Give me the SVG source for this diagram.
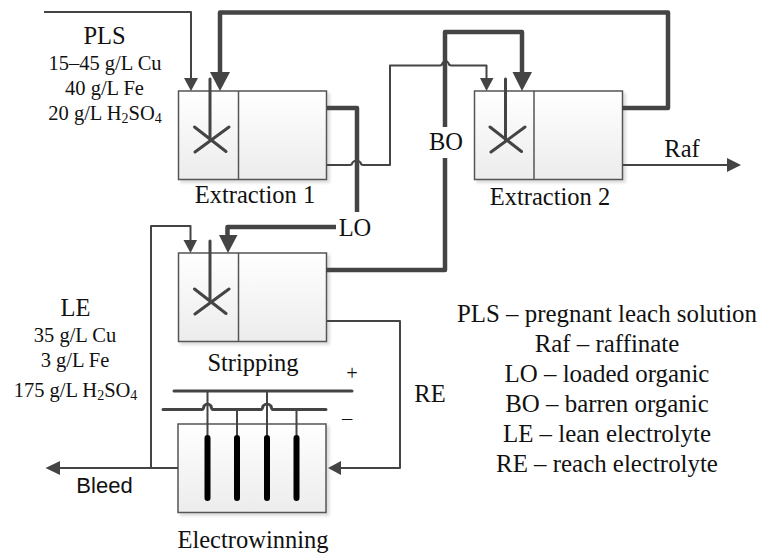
<svg xmlns="http://www.w3.org/2000/svg" width="761" height="555" viewBox="0 0 761 555">
<style>
text{font-family:"Liberation Serif","Times New Roman",serif;fill:#111;text-anchor:middle}
.t25{font-size:24.5px}.t20{font-size:20.5px}.leg{font-size:24.9px}
.box{fill:url(#g);stroke:#555;stroke-width:1.5;filter:url(#s)}
.div{fill:none;stroke:#555;stroke-width:1.5}
.thin{fill:none;stroke:#444;stroke-width:2;stroke-linejoin:round}
.thick{fill:none;stroke:#444;stroke-width:4.5;stroke-linejoin:round}
.imp{fill:none;stroke:#444;stroke-width:3;stroke-linecap:round}
.rod{stroke:#000;stroke-width:6;stroke-linecap:round}
.bus{fill:none;stroke:#444;stroke-width:3;stroke-linecap:round}
.head{fill:#444}
.sub{font-size:14px}
</style>
<defs>
<linearGradient id="g" x1="0" y1="0" x2="0" y2="1"><stop offset="0" stop-color="#fff"/><stop offset="1" stop-color="#ececec"/></linearGradient>
<filter id="s" x="-5%" y="-5%" width="112%" height="115%"><feDropShadow dx="2.5" dy="2.5" stdDeviation="1.5" flood-color="#000" flood-opacity="0.15"/></filter>
</defs>

<g id="extraction1">
<rect class="box" x="178.5" y="91" width="148" height="88.5"/>
<path class="div" d="M238.5 91V179.5"/>
<path class="imp" d="M210 79V141M195 152L229 127M194.500 127L226 151.500"/>
<text class="t25" x="255" y="203">Extraction 1</text>
</g>
<g id="extraction2">
<rect class="box" x="474.500" y="91" width="148" height="88.500"/>
<path class="div" d="M534 91V179.500"/>
<path class="imp" d="M505.500 79V141M491 152L525 127M490 127L521.500 151.500"/>
<text class="t25" x="550" y="204.500">Extraction 2</text>
</g>
<g id="stripping">
<rect class="box" x="178.500" y="253" width="148" height="88.500"/>
<path class="div" d="M238.500 253V341.500"/>
<path class="imp" d="M210 241V303M195 314L229 289M194.500 289L226 313.500"/>
<text class="t25" x="253" y="371">Stripping</text>
</g>
<g id="electrowinning">
<rect class="box" x="178" y="424" width="148" height="88.500"/>
<path class="bus" d="M174 391H352"/>
<path class="bus" d="M163 409.500H202Q203.500 409.500 204 406Q207.500 402 211 406Q211.500 409.500 213 409.500H261Q262.500 409.500 263 406Q267 402 271 406Q271.500 409.500 273 409.500H326"/>
<path class="thin" d="M207.500 391V437M237 409.500V437M267 391V437M296.500 409.500V437"/>
<path class="rod" d="M207.500 438V498M237 438V498M267 438V498M296.500 438V498"/>
<text class="t20" x="352" y="380">+</text>
<text class="t20" x="347" y="425">–</text>
<text class="t25" x="253" y="548">Electrowinning</text>
</g>

<g id="connectors">
<path class="thin" d="M44 12H191V79"/>
<polygon class="head" points="184,78 198,78 191,91"/>
<path class="thick" d="M622 108H668V12.500H220V74"/>
<polygon class="head" points="210,72 230,72 220,91"/>
<path class="thick" d="M327 108H357V212"/>
<path class="thin" d="M327 165H350Q352 165 352.500 162.500Q356.500 158.500 360.500 162.500Q361 165 363 165H390V65.500H440Q442 65.500 442.500 63Q445.500 59 448.500 63Q449 65.500 451 65.500H486.500V79"/>
<polygon class="head" points="480,78 493.500,78 486.500,91"/>
<path class="thick" d="M336 227H227.500V238"/>
<polygon class="head" points="219,235 237.500,235 228,253"/>
<path class="thick" d="M326 270H445V158M445 127V32H522V76"/>
<polygon class="head" points="512.500,72 532,72 522,91"/>
<path class="thin" d="M623 165H728"/>
<polygon class="head" points="727,158 741,165 727,172"/>
<path class="thin" d="M327 321H400V468H338"/>
<polygon class="head" points="341,461 341,475 328,468"/>
<path class="thin" d="M178 468H58M151 468V226H190.500V242"/>
<polygon class="head" points="183.500,240 197,240 190.500,253"/>
<polygon class="head" points="60,461 60,475 45.500,468"/>
</g>

<g id="labels">
<text class="t25" x="104.500" y="43.500">PLS</text>
<text class="t20" x="105" y="70">15–45 g/L Cu</text>
<text class="t20" x="104.500" y="95">40 g/L Fe</text>
<text class="t20" x="105" y="120">20 g/L H<tspan class="sub" dy="3">2</tspan><tspan dy="-3">SO</tspan><tspan class="sub" dy="3">4</tspan></text>
<text class="t25" x="355" y="236">LO</text>
<text class="t25" x="446" y="150">BO</text>
<text class="t25" x="682" y="157">Raf</text>
<text class="t25" x="75.500" y="316">LE</text>
<text class="t20" x="75" y="342">35 g/L Cu</text>
<text class="t20" x="75" y="367">3 g/L Fe</text>
<text class="t20" x="75.500" y="397">175 g/L H<tspan class="sub" dy="3">2</tspan><tspan dy="-3">SO</tspan><tspan class="sub" dy="3">4</tspan></text>
<text class="t25" x="430" y="402">RE</text>
<text x="104.500" y="493" style="font-family:'Liberation Sans',Arial,sans-serif;font-size:22px">Bleed</text>
<text class="leg" x="607" y="322">PLS – pregnant leach solution</text>
<text class="leg" x="607" y="352">Raf – raffinate</text>
<text class="leg" x="607" y="382">LO – loaded organic</text>
<text class="leg" x="607" y="412">BO – barren organic</text>
<text class="leg" x="607" y="442">LE – lean electrolyte</text>
<text class="leg" x="607" y="472">RE – reach electrolyte</text>
</g>
</svg>
